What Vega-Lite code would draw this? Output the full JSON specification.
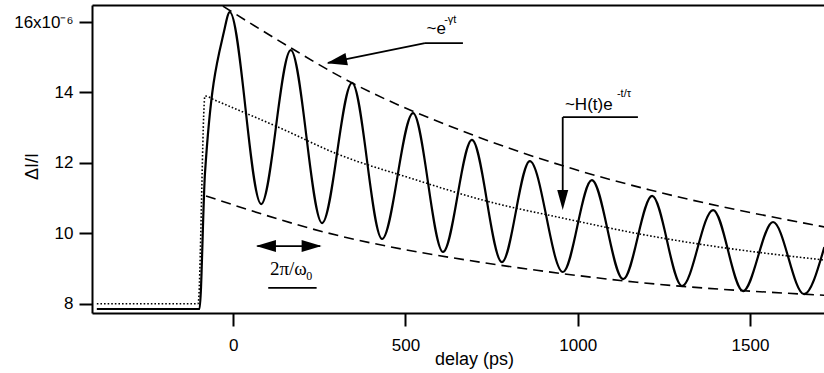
{
  "$schema": "https://vega.github.io/schema/vega-lite/v6.json",
  "width": 732,
  "height": 308,
  "autosize": {"type": "none"},
  "padding": {"left": 92, "top": 5, "right": 0, "bottom": 60},
  "background": "white",
  "config": {
    "view": {"stroke": null},
    "font": "Liberation Sans",
    "axis": {
      "grid": false,
      "domainColor": "black",
      "domainWidth": 2,
      "tickColor": "black",
      "tickWidth": 2,
      "tickSize": 13,
      "labelColor": "black",
      "labelFont": "Liberation Sans",
      "labelFontSize": 17,
      "titleColor": "black",
      "titleFont": "Liberation Sans",
      "titleFontSize": 18,
      "titleFontWeight": "normal"
    }
  },
  "datasets": {
    "curves": [
      {"series": "signal", "t": -396, "v": 7.85},
      {"series": "signal", "t": -98, "v": 7.85},
      {"series": "signal", "t": -82, "v": 11.71},
      {"series": "signal", "t": -27, "v": 15.72},
      {"series": "signal", "t": -10, "v": 16.28},
      {"series": "signal", "t": 81, "v": 10.83},
      {"series": "signal", "t": 167, "v": 15.2},
      {"series": "signal", "t": 258, "v": 10.29},
      {"series": "signal", "t": 345, "v": 14.27},
      {"series": "signal", "t": 432, "v": 9.84},
      {"series": "signal", "t": 522, "v": 13.41},
      {"series": "signal", "t": 609, "v": 9.47},
      {"series": "signal", "t": 693, "v": 12.65},
      {"series": "signal", "t": 780, "v": 9.18},
      {"series": "signal", "t": 861, "v": 12.05},
      {"series": "signal", "t": 957, "v": 8.9},
      {"series": "signal", "t": 1041, "v": 11.51},
      {"series": "signal", "t": 1132, "v": 8.7},
      {"series": "signal", "t": 1216, "v": 11.06},
      {"series": "signal", "t": 1303, "v": 8.5},
      {"series": "signal", "t": 1393, "v": 10.66},
      {"series": "signal", "t": 1480, "v": 8.36},
      {"series": "signal", "t": 1567, "v": 10.32},
      {"series": "signal", "t": 1657, "v": 8.27},
      {"series": "signal", "t": 1716, "v": 9.61},
      {"series": "background", "t": -396, "v": 8.0},
      {"series": "background", "t": -102, "v": 8.0},
      {"series": "background", "t": -82, "v": 13.9},
      {"series": "background", "t": -53, "v": 13.78},
      {"series": "background", "t": 150, "v": 12.93},
      {"series": "background", "t": 295, "v": 12.28},
      {"series": "background", "t": 513, "v": 11.57},
      {"series": "background", "t": 745, "v": 10.89},
      {"series": "background", "t": 957, "v": 10.43},
      {"series": "background", "t": 1180, "v": 9.98},
      {"series": "background", "t": 1375, "v": 9.66},
      {"series": "background", "t": 1716, "v": 9.24},
      {"series": "upper", "t": -30, "v": 16.45},
      {"series": "upper", "t": 168, "v": 15.26},
      {"series": "upper", "t": 318, "v": 14.41},
      {"series": "upper", "t": 696, "v": 12.79},
      {"series": "upper", "t": 986, "v": 11.83},
      {"series": "upper", "t": 1210, "v": 11.23},
      {"series": "upper", "t": 1716, "v": 10.18},
      {"series": "lower", "t": -79, "v": 11.06},
      {"series": "lower", "t": 266, "v": 10.03},
      {"series": "lower", "t": 716, "v": 9.18},
      {"series": "lower", "t": 881, "v": 8.95},
      {"series": "lower", "t": 1172, "v": 8.61},
      {"series": "lower", "t": 1716, "v": 8.24}
    ],
    "segs": [
      {"x": 556.5, "y": 15.4, "x2": 666.8, "y2": 15.4},
      {"x": 556.5, "y": 15.4, "x2": 275, "y2": 14.84},
      {"x": 957, "y": 13.3, "x2": 1174.8, "y2": 13.3},
      {"x": 956.5, "y": 13.3, "x2": 956.5, "y2": 10.9},
      {"x": 70, "y": 9.636, "x2": 252, "y2": 9.636},
      {"x": 101.6, "y": 8.45, "x2": 242.1, "y2": 8.45}
    ]
  },
  "layer": [
    {
      "layer": [
        {
          "data": {"name": "curves"},
          "transform": [{"filter": "datum.series === 'signal'"}],
          "mark": {"type": "line", "interpolate": "monotone", "color": "black", "strokeWidth": 2.2},
          "encoding": {
            "x": {
              "field": "t", "type": "quantitative",
              "scale": {"domain": [-410, 1715], "nice": false, "zero": false},
              "axis": {"orient": "bottom", "values": [0, 500, 1000, 1500], "format": "d", "title": "delay (ps)", "labelPadding": 11, "titleX": 382, "titleY": 51, "titleBaseline": "alphabetic", "titleAnchor": "middle"}
            },
            "y": {
              "field": "v", "type": "quantitative",
              "scale": {"domain": [7.736, 16.483], "nice": false, "zero": false},
              "axis": {"values": [8, 10, 12, 14, 16], "format": "d", "labelExpr": "datum.value == 16 ? '16x10⁻⁶' : datum.label", "labelPadding": 6, "title": "ΔI/I", "titleX": -55, "titleY": 161, "titleAngle": 270, "titleBaseline": "alphabetic", "titleAlign": "center"}
            }
          }
        },
        {
          "data": {"name": "curves"},
          "transform": [{"filter": "datum.series === 'background'"}],
          "mark": {"type": "line", "interpolate": "monotone", "color": "black", "strokeWidth": 1.6, "strokeDash": [1.6, 2]},
          "encoding": {
            "x": {"field": "t", "type": "quantitative"},
            "y": {"field": "v", "type": "quantitative"}
          }
        },
        {
          "data": {"name": "curves"},
          "transform": [{"filter": "datum.series === 'upper'"}],
          "mark": {"type": "line", "interpolate": "monotone", "color": "black", "strokeWidth": 1.6, "strokeDash": [10, 6]},
          "encoding": {
            "x": {"field": "t", "type": "quantitative"},
            "y": {"field": "v", "type": "quantitative"}
          }
        },
        {
          "data": {"name": "curves"},
          "transform": [{"filter": "datum.series === 'lower'"}],
          "mark": {"type": "line", "interpolate": "monotone", "color": "black", "strokeWidth": 1.6, "strokeDash": [10, 6]},
          "encoding": {
            "x": {"field": "t", "type": "quantitative"},
            "y": {"field": "v", "type": "quantitative"}
          }
        },
        {
          "data": {"name": "segs"},
          "mark": {"type": "rule", "color": "black", "strokeWidth": 1.8},
          "encoding": {
            "x": {"field": "x", "type": "quantitative"},
            "y": {"field": "y", "type": "quantitative"},
            "x2": {"field": "x2"},
            "y2": {"field": "y2"}
          }
        },
        {
          "data": {"values": [{"x": 271.1, "y": 14.83}]},
          "mark": {"type": "point", "shape": "M0,0L2,-0.6L2,0.6Z", "size": 420, "filled": true, "color": "black", "opacity": 1, "angle": 348.5},
          "encoding": {
            "x": {"field": "x", "type": "quantitative"},
            "y": {"field": "y", "type": "quantitative"}
          }
        },
        {
          "data": {"values": [{"x": 956.5, "y": 10.66}]},
          "mark": {"type": "point", "shape": "M0,0L2,-0.55L2,0.55Z", "size": 400, "filled": true, "color": "black", "opacity": 1, "angle": 270},
          "encoding": {
            "x": {"field": "x", "type": "quantitative"},
            "y": {"field": "y", "type": "quantitative"}
          }
        },
        {
          "data": {"values": [{"x": 65.9, "y": 9.636}]},
          "mark": {"type": "point", "shape": "M0,0L2,-0.6L2,0.6Z", "size": 400, "filled": true, "color": "black", "opacity": 1, "angle": 0},
          "encoding": {
            "x": {"field": "x", "type": "quantitative"},
            "y": {"field": "y", "type": "quantitative"}
          }
        },
        {
          "data": {"values": [{"x": 256.6, "y": 9.636}]},
          "mark": {"type": "point", "shape": "M0,0L2,-0.6L2,0.6Z", "size": 400, "filled": true, "color": "black", "opacity": 1, "angle": 180},
          "encoding": {
            "x": {"field": "x", "type": "quantitative"},
            "y": {"field": "y", "type": "quantitative"}
          }
        },
        {
          "data": {"values": [
            {"x": 561.4, "y": 15.673, "label": "~e"},
            {"x": 962.9, "y": 13.5, "label": "~H(t)e"}
          ]},
          "mark": {"type": "text", "font": "Liberation Sans", "fontSize": 17, "align": "left", "baseline": "alphabetic", "color": "black"},
          "encoding": {
            "x": {"field": "x", "type": "quantitative"},
            "y": {"field": "y", "type": "quantitative"},
            "text": {"field": "label"}
          }
        },
        {
          "data": {"values": [
            {"x": 612.4, "y": 15.97, "label": "-γt"},
            {"x": 1113.9, "y": 13.87, "label": "-t/τ"}
          ]},
          "mark": {"type": "text", "font": "Liberation Sans", "fontSize": 11, "align": "left", "baseline": "alphabetic", "color": "black"},
          "encoding": {
            "x": {"field": "x", "type": "quantitative"},
            "y": {"field": "y", "type": "quantitative"},
            "text": {"field": "label"}
          }
        },
        {
          "data": {"values": [{"x": 106.5, "y": 8.81, "label": "2π/ω"}]},
          "mark": {"type": "text", "font": "Liberation Serif", "fontSize": 19, "align": "left", "baseline": "alphabetic", "color": "black"},
          "encoding": {
            "x": {"field": "x", "type": "quantitative"},
            "y": {"field": "y", "type": "quantitative"},
            "text": {"field": "label"}
          }
        },
        {
          "data": {"values": [{"x": 212, "y": 8.68, "label": "0"}]},
          "mark": {"type": "text", "font": "Liberation Serif", "fontSize": 12, "align": "left", "baseline": "alphabetic", "color": "black"},
          "encoding": {
            "x": {"field": "x", "type": "quantitative"},
            "y": {"field": "y", "type": "quantitative"},
            "text": {"field": "label"}
          }
        }
      ]
    },
    {
      "data": {"values": [{"t": -410}, {"t": 1715}]},
      "mark": {"type": "point", "opacity": 0},
      "encoding": {
        "x": {
          "field": "t", "type": "quantitative",
          "scale": {"domain": [-410, 1715], "nice": false, "zero": false},
          "axis": {"orient": "top", "labels": false, "ticks": false, "title": null, "domain": true}
        }
      }
    }
  ],
  "resolve": {"axis": {"x": "independent"}}
}
